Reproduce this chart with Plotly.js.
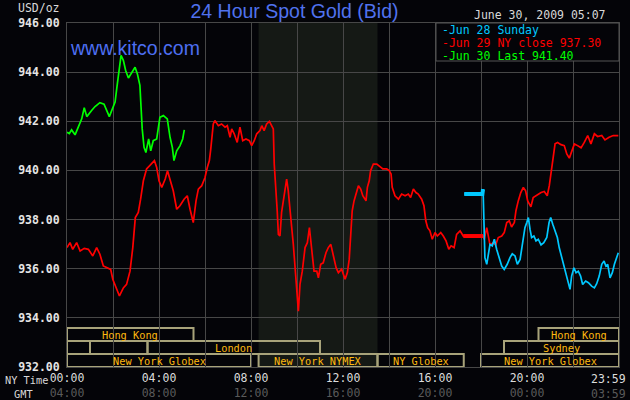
<!DOCTYPE html>
<html>
<head>
<meta charset="utf-8">
<script src="https://cdn.plot.ly/plotly-3.0.1.min.js"></script>
<style>
  html, body { margin: 0; padding: 0; background: #040408; }
  #chart { width: 630px; height: 400px; }
</style>
</head>
<body>
<div id="chart"></div>
<script>
// hours are NY time, 0 - 24
const seriesNames = ['Jun 28 Sunday', 'Jun 29 NY close 937.30', 'Jun 30 Last 941.40'];
const seriesColors = ['#00c8ff', '#ff0000', '#00ff00'];

const jun28Hours = [17.27, 18.06, 18.09, 18.12, 18.14, 18.17, 18.25, 18.32, 18.39, 18.49, 18.58, 18.68, 18.78, 18.9, 19.01, 19.14, 19.26, 19.36, 19.48, 19.58, 19.7, 19.8, 19.91, 19.99, 20.06, 20.13, 20.2, 20.3, 20.39, 20.49, 20.61, 20.73, 20.86, 20.96, 21.03, 21.12, 21.22, 21.32, 21.4, 21.51, 21.61, 21.7, 21.8, 21.87, 21.94, 22.04, 22.13, 22.23, 22.33, 22.42, 22.55, 22.67, 22.81, 22.93, 23.03, 23.14, 23.25, 23.35, 23.43, 23.51, 23.61, 23.71, 23.8, 23.9, 23.97];
const jun28Bid = [939.04, 939.04, 939.24, 938.35, 936.86, 936.45, 936.18, 936.52, 936.99, 936.93, 937.2, 936.79, 936.45, 936.11, 935.97, 936.18, 936.45, 936.61, 936.52, 936.18, 936.38, 936.99, 937.67, 937.88, 938.08, 937.61, 937.27, 937.33, 937.13, 937.2, 936.97, 937.06, 937.27, 937.88, 938.08, 937.81, 937.54, 937.27, 936.86, 936.45, 936.18, 935.77, 935.36, 935.16, 935.7, 936.04, 935.84, 935.9, 935.7, 935.36, 935.5, 935.43, 935.29, 935.22, 935.39, 935.7, 936.18, 936.31, 936.11, 936.18, 935.63, 935.84, 936.18, 936.52, 936.65];

const jun29Hours = [0, 0.13, 0.25, 0.42, 0.57, 0.75, 0.93, 1.12, 1.29, 1.43, 1.58, 1.72, 1.9, 1.99, 2.14, 2.28, 2.45, 2.59, 2.74, 2.86, 2.97, 3.1, 3.2, 3.32, 3.46, 3.64, 3.8, 3.9, 4.0, 4.12, 4.27, 4.37, 4.49, 4.62, 4.77, 4.91, 5.09, 5.23, 5.35, 5.49, 5.61, 5.71, 5.86, 6.0, 6.1, 6.19, 6.25, 6.3, 6.36, 6.43, 6.58, 6.72, 6.87, 6.97, 7.09, 7.16, 7.27, 7.4, 7.52, 7.64, 7.78, 7.93, 8.03, 8.14, 8.25, 8.39, 8.47, 8.57, 8.68, 8.8, 8.9, 8.97, 9.01, 9.09, 9.14, 9.19, 9.26, 9.33, 9.4, 9.48, 9.55, 9.62, 9.7, 9.77, 9.84, 9.91, 9.99, 10.06, 10.13, 10.23, 10.35, 10.45, 10.54, 10.64, 10.74, 10.86, 10.93, 11.03, 11.14, 11.26, 11.36, 11.47, 11.58, 11.7, 11.8, 11.94, 12.09, 12.19, 12.27, 12.33, 12.4, 12.48, 12.57, 12.67, 12.77, 12.86, 12.96, 13.0, 13.06, 13.14, 13.2, 13.32, 13.47, 13.58, 13.73, 13.9, 14.01, 14.09, 14.14, 14.26, 14.41, 14.55, 14.7, 14.84, 14.94, 15.06, 15.17, 15.27, 15.42, 15.52, 15.6, 15.68, 15.78, 15.88, 16.0, 16.1, 16.25, 16.36, 16.48, 16.6, 16.7, 16.83, 16.94, 17.09, 17.23, 18.1, 18.14, 18.25, 18.32, 18.39, 18.54, 18.64, 18.75, 18.9, 19.01, 19.12, 19.23, 19.33, 19.45, 19.52, 19.62, 19.73, 19.84, 19.94, 20.03, 20.17, 20.27, 20.42, 20.61, 20.75, 20.88, 20.97, 21.07, 21.14, 21.22, 21.33, 21.48, 21.62, 21.73, 21.84, 21.94, 22.06, 22.2, 22.35, 22.49, 22.64, 22.78, 22.93, 23.07, 23.25, 23.39, 23.57, 23.75, 23.97];
const jun29Bid = [936.86, 937.06, 936.79, 937.06, 936.72, 936.83, 936.79, 936.52, 936.86, 936.59, 936.11, 936.04, 935.97, 935.57, 935.22, 934.89, 935.22, 935.36, 935.9, 936.86, 938.08, 938.29, 938.83, 939.58, 940.06, 940.26, 940.4, 940.12, 939.58, 939.31, 939.65, 939.99, 939.58, 939.17, 938.42, 938.56, 938.83, 938.97, 938.42, 937.88, 938.76, 939.24, 939.38, 939.71, 940.12, 940.4, 940.87, 941.49, 941.89, 942.03, 941.82, 941.89, 941.76, 941.82, 941.35, 941.69, 941.49, 941.14, 941.76, 941.21, 941.28, 941.21, 941.01, 941.21, 941.49, 941.62, 941.82, 941.62, 941.89, 942.0, 941.82, 941.69, 940.26, 939.31, 938.35, 937.4, 937.33, 938.29, 938.76, 939.31, 939.65, 939.17, 938.22, 937.67, 936.99, 936.18, 935.36, 934.27, 935.36, 935.9, 936.86, 937.06, 937.67, 936.72, 935.9, 935.9, 935.63, 936.18, 936.24, 936.65, 936.86, 936.99, 936.59, 936.04, 935.84, 935.98, 935.57, 935.84, 936.38, 937.27, 938.36, 938.76, 939.1, 939.38, 939.24, 938.97, 938.83, 938.76, 939.31, 939.58, 939.99, 940.26, 940.26, 940.19, 940.06, 940.06, 939.99, 939.85, 939.31, 938.97, 938.83, 939.04, 938.97, 939.04, 938.9, 939.24, 939.1, 939.04, 938.83, 938.56, 937.95, 937.67, 937.54, 937.2, 937.47, 937.33, 937.47, 937.33, 937.13, 936.79, 936.93, 936.86, 937.4, 937.54, 937.33, 937.33, 937.2, 937.67, 937.27, 936.97, 937.06, 936.97, 937.27, 937.33, 937.47, 937.88, 937.95, 937.7, 937.88, 938.36, 938.76, 939.1, 939.31, 939.17, 938.76, 938.52, 938.9, 939.0, 939.1, 939.14, 938.97, 939.38, 940.06, 940.6, 941.08, 941.14, 941.05, 941.01, 940.67, 940.5, 940.73, 941.08, 941.01, 940.92, 941.14, 941.42, 941.08, 941.49, 941.38, 941.42, 941.24, 941.35, 941.42, 941.42];

const jun30Hours = [0, 0.1, 0.2, 0.35, 0.49, 0.64, 0.75, 0.86, 1.07, 1.22, 1.43, 1.61, 1.84, 1.99, 2.09, 2.19, 2.28, 2.35, 2.45, 2.55, 2.67, 2.81, 2.96, 3.06, 3.17, 3.22, 3.27, 3.35, 3.43, 3.55, 3.64, 3.75, 3.9, 4.04, 4.19, 4.36, 4.48, 4.58, 4.65, 4.77, 4.91, 5.03, 5.1];
const jun30Bid = [941.55, 941.5, 941.65, 941.45, 941.76, 942.1, 942.55, 942.19, 942.44, 942.6, 942.76, 942.7, 942.19, 942.5, 942.78, 943.53, 944.14, 944.68, 944.48, 944.07, 943.76, 944.0, 944.2, 943.93, 943.46, 942.57, 941.69, 940.94, 940.73, 941.28, 940.8, 941.21, 941.28, 942.16, 942.23, 942.1, 941.35, 940.94, 940.4, 940.8, 941.0, 941.28, 941.65];

// daily break in the NY session (no trading), drawn as a thick flat line
const breakStart = 17.2;
const breakEnd = 18.1;

// NYMEX pit hours (shaded)
const pitOpen = 8.33;
const pitClose = 13.5;

// trading sessions shown along the bottom (row 0 = lowest)
const sessionNames = ['Hong Kong', 'Hong Kong', '', '', 'London', 'Sydney', 'New York Globex', 'New York NYMEX', 'NY Globex', 'New York Globex'];
const sessionStart = [0, 20.5, 0, 1, 3.5, 19, 0, 8.33, 13.5, 18];
const sessionEnd = [5.5, 24, 1, 3.5, 11, 24, 8, 13.5, 17.25, 24];
const sessionRow = [2, 2, 1, 1, 1, 1, 0, 0, 0, 0];

const tickHours = [0, 2, 4, 6, 8, 10, 12, 14, 16, 18, 20, 22, 24];
const nyLabels = ['00:00', '', '04:00', '', '08:00', '', '12:00', '', '16:00', '', '20:00', '', '23:59'];
const gmtLabels = ['04:00', '', '08:00', '', '12:00', '', '16:00', '', '20:00', '', '00:00', '', '03:59'];

const mono = '"DejaVu Sans Mono", "Liberation Mono", monospace';
const grid = '#474747';
const rowH = 13 / 344;
const nyColor = '#dcdcdc';
const gmtColor = '#5a5a5a';

let hours = [jun28Hours, jun29Hours, jun30Hours];
let bids = [jun28Bid, jun29Bid, jun30Bid];

let chart_data = [];
// red first, cyan over it, green last
[1, 0, 2].forEach((i) => {
    chart_data.push({
        x: hours[i],
        y: bids[i],
        name: seriesNames[i],
        mode: 'lines',
        line: {color: seriesColors[i], width: 1.7},
        hoverinfo: 'skip'
    });
    let bx = [], by = [];
    hours[i].forEach((h, k) => {
        if (h >= breakStart && h <= breakEnd) { bx.push(h); by.push(bids[i][k]); }
    });
    if (bx.length > 1) {
        chart_data.push({
            x: bx, y: by, mode: 'lines', showlegend: false, hoverinfo: 'skip',
            line: {color: seriesColors[i], width: 4}
        });
    }
});

let shapes = [{
    type: 'rect', xref: 'x', yref: 'paper', layer: 'below',
    x0: pitOpen, x1: pitClose, y0: 0, y1: 1,
    fillcolor: '#151915', line: {width: 0}
}];

let annotations = [];

sessionNames.forEach((name, i) => {
    let y0 = sessionRow[i] * rowH;
    shapes.push({
        type: 'rect', xref: 'x', yref: 'paper', layer: 'between',
        x0: sessionStart[i], x1: sessionEnd[i], y0: y0, y1: y0 + rowH,
        fillcolor: 'rgba(0,0,0,0)', line: {color: '#a8a37a', width: 2}
    });
    if (name) {
        annotations.push({
            xref: 'x', yref: 'paper',
            x: (sessionStart[i] + sessionEnd[i]) / 2, y: y0 + rowH / 2,
            text: name, showarrow: false, xanchor: 'center', yanchor: 'middle',
            font: {family: mono, size: 10.3, color: '#ffb90f'}
        });
    }
});

// legend box, top right
shapes.push({
    type: 'rect', xref: 'paper', yref: 'paper', layer: 'above',
    x0: (436 - 67) / 552, x1: 1, y0: 1 - 38 / 344, y1: 1,
    fillcolor: '#040408', line: {color: '#555555', width: 1}
});
seriesNames.forEach((name, i) => {
    annotations.push({
        xref: 'paper', yref: 'paper', x: (440 - 67) / 552, y: 1 - (7 + 13 * i) / 344,
        text: '-' + name, showarrow: false, xanchor: 'left', yanchor: 'middle',
        font: {family: mono, size: 11.5, color: seriesColors[i]}
    });
});

// last tick label sits inside the right edge
const last = tickHours.length - 1;
annotations.push({
    xref: 'x', yref: 'paper', x: tickHours[last], y: 0, xshift: -11, yshift: -3,
    text: '<span style="color:' + nyColor + '">' + nyLabels[last] + '</span><br><span style="color:' + gmtColor + '">' + gmtLabels[last] + '</span>',
    showarrow: false, xanchor: 'center', yanchor: 'top', align: 'center',
    font: {family: mono, size: 11.5, color: nyColor}
});

annotations.push(
    {xref: 'paper', yref: 'paper', x: 0.002, y: 1 - 25 / 344, text: 'www.kitco.com',
     showarrow: false, xanchor: 'left', yanchor: 'middle',
     font: {family: '"Liberation Sans", Arial, sans-serif', size: 19.5, color: '#4d6ff2'}},
    {xref: 'paper', yref: 'paper', x: 1 - 11 / 552, y: 1 + 8 / 344, text: 'June 30, 2009 05:07',
     showarrow: false, xanchor: 'right', yanchor: 'middle',
     font: {family: mono, size: 11.5, color: '#d8d8d8'}},
    {xref: 'paper', yref: 'paper', x: -5 / 552, y: 1 + 15 / 344, text: 'USD/oz',
     showarrow: false, xanchor: 'right', yanchor: 'middle',
     font: {family: mono, size: 11.5, color: '#d8d8d8'}},
    {xref: 'paper', yref: 'paper', x: -64 / 552, y: -13 / 344, text: 'NY Time',
     showarrow: false, xanchor: 'left', yanchor: 'middle',
     font: {family: mono, size: 10.3, color: '#d8d8d8'}},
    {xref: 'paper', yref: 'paper', x: -55 / 552, y: -27 / 344, text: 'GMT',
     showarrow: false, xanchor: 'left', yanchor: 'middle',
     font: {family: mono, size: 10.3, color: '#d8d8d8'}}
);

const tick_text = tickHours.map((h, i) => (nyLabels[i] && i !== last) ?
    '<span style="color:' + nyColor + '">' + nyLabels[i] + '</span><br><span style="color:' + gmtColor + '">' + gmtLabels[i] + '</span>' : '');

const chart_layout = {
    width: 630,
    height: 400,
    paper_bgcolor: '#040408',
    plot_bgcolor: '#040408',
    margin: {l: 67, r: 11, t: 23, b: 33, pad: 0},
    showlegend: false,
    title: {
        text: '24 Hour Spot Gold (Bid)',
        x: 294.5 / 630, xref: 'container', xanchor: 'center',
        y: 1 - 11 / 400, yref: 'container', yanchor: 'middle',
        font: {family: '"Liberation Sans", Arial, sans-serif', size: 19.5, color: '#5072ee'}
    },
    xaxis: {
        range: [0, 24],
        tickmode: 'array',
        tickvals: tickHours,
        ticktext: tick_text,
        ticks: '',
        showgrid: true,
        gridcolor: grid,
        gridwidth: 1,
        zeroline: false,
        showline: true,
        linecolor: grid,
        mirror: true,
        tickfont: {family: mono, size: 11.5, color: nyColor},
        fixedrange: true
    },
    yaxis: {
        range: [932, 946],
        dtick: 2,
        tick0: 932,
        tickformat: '.2f',
        ticks: '',
        ticklabelstandoff: 4,
        showgrid: true,
        gridcolor: grid,
        gridwidth: 1,
        zeroline: false,
        showline: true,
        linecolor: grid,
        mirror: true,
        tickfont: {family: mono, size: 11.5, color: '#e4e4e4', weight: 'bold'},
        fixedrange: true
    },
    shapes: shapes,
    annotations: annotations
};

Plotly.newPlot('chart', chart_data, chart_layout, {displayModeBar: false, staticPlot: true});
</script>
</body>
</html>
